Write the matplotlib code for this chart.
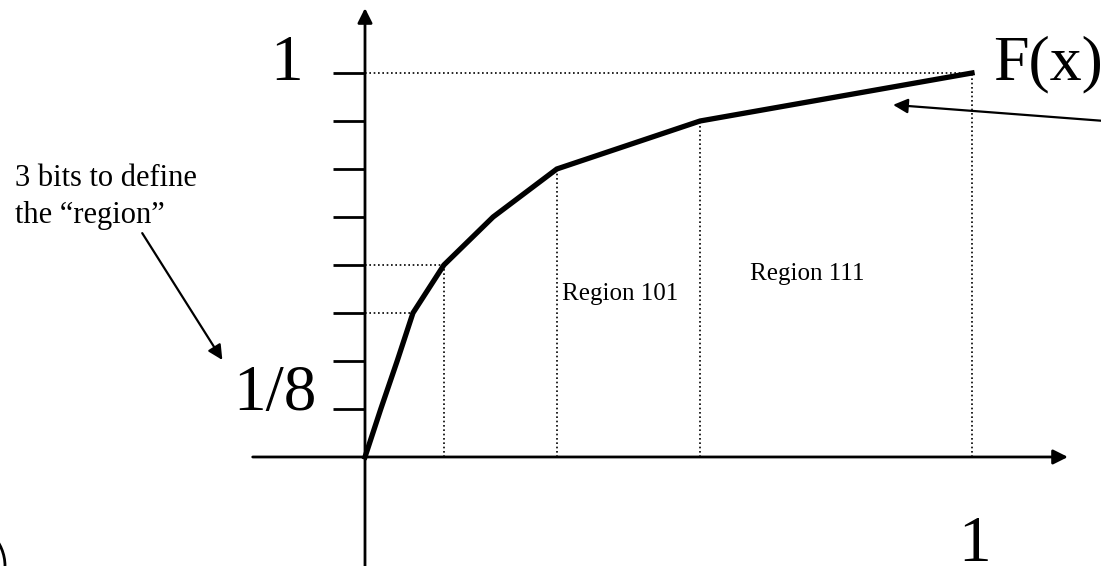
import matplotlib.pyplot as plt
from matplotlib.patches import Arc

plt.rcParams['font.family'] = ['Liberation Serif', 'DejaVu Serif']

# piecewise linear F(x): x break points at each 1/8 level
cdf_x = [0, 0.026, 0.053, 0.079, 0.130, 0.211, 0.316, 0.552, 1.0]
cdf_y = [i / 8 for i in range(9)]
tick_levels = [i / 8 for i in range(1, 9)]
# guide lines
hguide_idx = [3, 4, 8]
vguide_idx = [4, 6, 7, 8]

fig = plt.figure(figsize=(11.01, 5.66), dpi=100)
ax = fig.add_axes([0, 0, 1, 1])
ax.set_xlim(-0.6013, 1.2125)
ax.set_ylim(-0.2839, 1.1901)
ax.axis('off')

# axes with arrows
ax.annotate('', xy=(1.158, 0), xytext=(-0.185, 0),
            arrowprops=dict(arrowstyle='-|>', lw=2, color='k', mutation_scale=22,
                            shrinkA=0, shrinkB=0), annotation_clip=False)
ax.annotate('', xy=(0, 1.169), xytext=(0, -0.29),
            arrowprops=dict(arrowstyle='-|>', lw=2, color='k', mutation_scale=22,
                            shrinkA=0, shrinkB=0), annotation_clip=False)

# tick marks on y axis
for t in tick_levels:
    ax.plot([-0.0527, 0], [t, t], color='k', lw=2, solid_capstyle='butt')

# dotted guides
for i in hguide_idx:
    ax.plot([0, cdf_x[i]], [cdf_y[i], cdf_y[i]], color='k', lw=1.2, ls=(0, (1, 1.6)))
for i in vguide_idx:
    ax.plot([cdf_x[i], cdf_x[i]], [0, cdf_y[i]], color='k', lw=1.2, ls=(0, (1, 1.6)))

# the curve
ax.plot(cdf_x, cdf_y, color='k', lw=3.8, solid_joinstyle='miter')

# labels
ax.text(-0.1285, 0.982, '1', fontsize=47, ha='center', va='baseline')
ax.text(-0.079, 0.1224, '1/8', fontsize=47, ha='right', va='baseline')
ax.text(1.0346, 0.982, 'F(x)', fontsize=46, ha='left', va='baseline')
ax.text(1.005, -0.271, '1', fontsize=47, ha='center', va='baseline')
ax.text(0.3245, 0.409, 'Region 101', fontsize=18, ha='left', va='baseline')
ax.text(0.634, 0.461, 'Region 111', fontsize=18, ha='left', va='baseline')
ax.text(-0.577, 0.7057, '3 bits to define', fontsize=22, ha='left', va='baseline')
ax.text(-0.577, 0.609, 'the \u201cregion\u201d', fontsize=22, ha='left', va='baseline')

# pointer arrows
ax.annotate('', xy=(-0.235, 0.2526), xytext=(-0.367, 0.583),
            arrowprops=dict(arrowstyle='-|>', lw=1.6, color='k', mutation_scale=22,
                            shrinkA=0, shrinkB=0), annotation_clip=False)
ax.annotate('', xy=(0.870, 0.917), xytext=(1.219, 0.875),
            arrowprops=dict(arrowstyle='-|>', lw=1.6, color='k', mutation_scale=22,
                            shrinkA=0, shrinkB=0), annotation_clip=False)

# clipped bracket fragment at the bottom-left edge
ax.add_patch(Arc((-0.6672, -0.2839), 2 * 45 / 607, 2 * 45 / 384,
                 theta1=0, theta2=90, lw=2, color='k'))

fig.savefig('out.png', dpi=100)
